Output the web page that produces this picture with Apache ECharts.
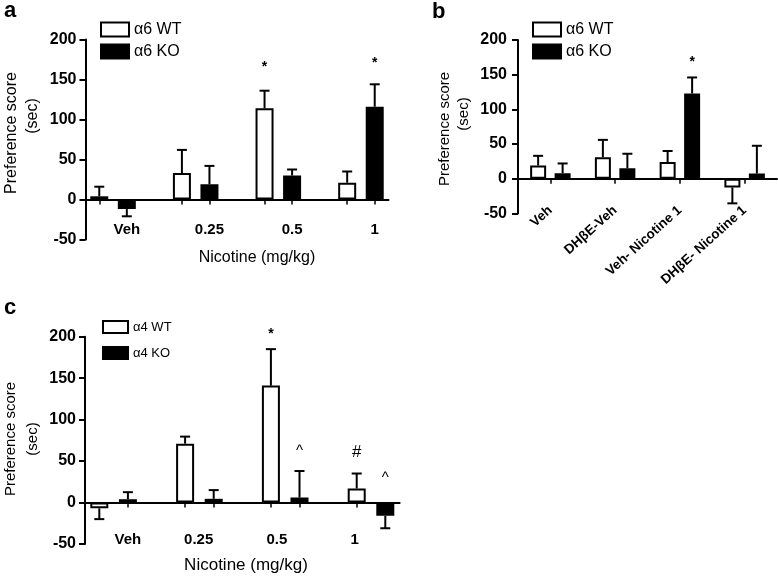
<!DOCTYPE html>
<html>
<head>
<meta charset="utf-8">
<script src="https://cdn.jsdelivr.net/npm/echarts@6/dist/echarts.min.js"></script>
<style>
html,body{margin:0;padding:0;background:#fff;}
#chart{width:778px;height:577px;}
</style>
</head>
<body>
<div id="chart"></div>
<script>
// ---------- DATA ----------
// Panel a : alpha6 WT / KO, nicotine dose
const aCategories = ['Veh', '0.25', '0.5', '1'];
const aWT    = [4, 33, 114, 21];
const aWTErr = [12, 29, 22, 14];
const aKO    = [-12, 19, 30, 116];
const aKOErr = [9, 23, 7.5, 28];
const aMarkText   = ['*', '*'];
const aMarkGroup  = [2, 3];
const aMarkSeries = ['WT', 'KO'];
const aMarkValue  = [166, 170];

// Panel b : alpha6 WT / KO, DHbE pretreatment
const bCategories = ['Veh', 'DHβE-Veh', 'Veh- Nicotine 1', 'DHβE- Nicotine 1'];
const bWT    = [19, 31, 24, -12.5];
const bWTErr = [14, 25, 16, 23];
const bKO    = [8, 15, 123, 7.5];
const bKOErr = [14, 21, 23, 40];
const bMarkText   = ['*'];
const bMarkGroup  = [2];
const bMarkSeries = ['KO'];
const bMarkValue  = [168];

// Panel c : alpha4 WT / KO, nicotine dose
const cCategories = ['Veh', '0.25', '0.5', '1'];
const cWT    = [-7, 71, 141, 17];
const cWTErr = [13, 8.5, 44, 18];
const cKO    = [4, 4.5, 6, -16];
const cKOErr = [8.5, 10.5, 32, 15];
const cMarkText   = ['*', '^', '#', '^'];
const cMarkGroup  = [2, 2, 3, 3];
const cMarkSeries = ['WT', 'KO', 'WT', 'KO'];
const cMarkValue  = [203, 62, 60, 30];

const yMin = -50, yMax = 200, yStep = 50;
const legendA = ['α6 WT', 'α6 KO'];
const legendC = ['α4 WT', 'α4 KO'];
const yTitle = ['Preference score', '(sec)'];
const xTitle = 'Nicotine (mg/kg)';

// ---------- LAYOUT / STYLE ----------
const FONT = '"Liberation Sans", Arial, Helvetica, sans-serif';
const BLACK = '#000';

// slotted layout for panels a and c: WT, KO, gap, WT, KO, gap ...
function slotData(cats) {
  const d = [];
  cats.forEach((c, i) => {
    d.push(c + ' WT', c + ' KO');
    if (i < cats.length - 1) d.push('gap' + i);
  });
  return d;
}
function slotValues(vals, offset) {
  const n = vals.length * 3 - 1;
  const arr = new Array(n).fill(null);
  vals.forEach((v, i) => { arr[i * 3 + offset] = v; });
  return arr;
}
function slotErr(vals, errs, offset) {
  return vals.map((v, i) => [i * 3 + offset, v, errs[i]]);
}
function slotMarks(texts, groups, ser, values) {
  return texts.map((t, i) => [groups[i] * 3 + (ser[i] === 'WT' ? 0 : 1), values[i], t]);
}
function isBarSlot(i) { return i % 3 !== 2; }

function errRender(cap) {
  return function (params, api) {
    const x = api.value(0), m = api.value(1), e = api.value(2);
    const end = m >= 0 ? m + e : m - e;
    const p0 = api.coord([x, m]);
    const p1 = api.coord([x, end]);
    const hw = cap / 2;
    const st = { stroke: BLACK, lineWidth: 2 };
    return {
      type: 'group',
      children: [
        { type: 'line', shape: { x1: p0[0], y1: p0[1], x2: p1[0], y2: p1[1] }, style: st },
        { type: 'line', shape: { x1: p1[0] - hw, y1: p1[1], x2: p1[0] + hw, y2: p1[1] }, style: st }
      ]
    };
  };
}
function markRender(sizes) {
  return function (params, api) {
    const p = api.coord([api.value(0), api.value(1)]);
    const t = api.value(2);
    const s = sizes[t] || sizes['*'];
    return {
      type: 'text', x: p[0], y: p[1],
      style: { text: t, fill: BLACK, align: 'center', verticalAlign: 'middle', font: s }
    };
  };
}

function yAxisCfg(gi, margin, fs) {
  return {
    gridIndex: gi, type: 'value', min: yMin, max: yMax, interval: yStep,
    axisLine: { show: true, lineStyle: { color: BLACK, width: 2 } },
    axisTick: { show: true, length: 6, lineStyle: { color: BLACK, width: 2 } },
    splitLine: { show: false },
    axisLabel: { color: BLACK, fontFamily: FONT, fontWeight: 'bold', fontSize: fs, margin: margin }
  };
}

const whiteStyle = { color: '#fff', borderColor: BLACK, borderWidth: 2 };
const blackStyle = { color: BLACK, borderColor: BLACK, borderWidth: 2 };

// label slots for panel a / c
const aLabelSlot = [1, 4, 7, 10];
const cLabelSlot = [1, 4, 6, 9];
const cLabelPad = [[0, 0, 0, 0], [0, 30, 0, 0], [0, 0, 0, 12], [0, 4, 0, 0]];

const cRich = {};
cLabelPad.forEach((p, i) => { cRich['s' + i] = { padding: p }; });

const option = {
  backgroundColor: '#fff',
  animation: false,
  textStyle: { fontFamily: FONT },
  grid: [
    { left: 85.5, top: 39.5, width: 303, height: 200, outerBoundsMode: 'none', containLabel: false },
    { left: 518, top: 40, width: 259, height: 173.4, outerBoundsMode: 'none', containLabel: false },
    { left: 85, top: 336.7, width: 314.6, height: 207.3, outerBoundsMode: 'none', containLabel: false }
  ],
  legend: [
    {
      orient: 'vertical', left: 100, top: 21.5, padding: 0, itemWidth: 28, itemHeight: 14, itemGap: 6,
      icon: 'rect', selectedMode: false,
      textStyle: { color: BLACK, fontSize: 16, fontFamily: FONT },
      data: [{ name: legendA[0], itemStyle: whiteStyle }, { name: legendA[1], itemStyle: blackStyle }]
    },
    {
      orient: 'vertical', left: 532, top: 21.5, padding: 0, itemWidth: 28, itemHeight: 14, itemGap: 6,
      icon: 'rect', selectedMode: false,
      textStyle: { color: BLACK, fontSize: 16, fontFamily: FONT },
      data: [{ name: legendA[0], itemStyle: whiteStyle }, { name: legendA[1], itemStyle: blackStyle }]
    },
    {
      orient: 'vertical', left: 102, top: 320, padding: 0, itemWidth: 25, itemHeight: 12, itemGap: 12,
      icon: 'rect', selectedMode: false,
      textStyle: { color: BLACK, fontSize: 13, fontFamily: FONT },
      data: [{ name: legendC[0], itemStyle: whiteStyle }, { name: legendC[1], itemStyle: blackStyle }]
    }
  ],
  xAxis: [
    {
      gridIndex: 0, type: 'category', data: slotData(aCategories),
      axisLine: { onZero: true, lineStyle: { color: BLACK, width: 2 } },
      axisTick: { show: true, alignWithLabel: true, length: 5, interval: (i) => isBarSlot(i), lineStyle: { color: BLACK, width: 1.5 } },
      axisLabel: {
        interval: (i) => aLabelSlot.indexOf(i) >= 0,
        formatter: (v, i) => { const k = aLabelSlot.indexOf(i); return k >= 0 ? aCategories[k] : ''; },
        color: BLACK, fontWeight: 'bold', fontSize: 15, margin: -17, fontFamily: FONT
      }
    },
    {
      gridIndex: 1, type: 'category', data: bCategories,
      axisLine: { onZero: true, lineStyle: { color: BLACK, width: 2 } },
      axisTick: { show: true, alignWithLabel: true, length: 5, lineStyle: { color: BLACK, width: 1.5 } },
      axisLabel: {
        interval: 0, rotate: 42, color: BLACK, fontWeight: 'bold', fontSize: 13.5, margin: -5, fontFamily: FONT
      }
    },
    {
      gridIndex: 2, type: 'category', data: slotData(cCategories),
      axisLine: { onZero: true, lineStyle: { color: BLACK, width: 2 } },
      axisTick: { show: true, alignWithLabel: true, length: 5, interval: (i) => isBarSlot(i), lineStyle: { color: BLACK, width: 1.5 } },
      axisLabel: {
        interval: (i) => cLabelSlot.indexOf(i) >= 0,
        formatter: (v, i) => { const k = cLabelSlot.indexOf(i); return k >= 0 ? '{s' + k + '|' + cCategories[k] + '}' : ''; },
        rich: cRich,
        color: BLACK, fontWeight: 'bold', fontSize: 15, margin: -11.5, fontFamily: FONT
      }
    }
  ],
  yAxis: [yAxisCfg(0, 9, 16), yAxisCfg(1, 11, 16), yAxisCfg(2, 9, 16)],
  series: [
    // panel a
    { name: legendA[0], type: 'bar', xAxisIndex: 0, yAxisIndex: 0, data: slotValues(aWT, 0), barWidth: 18, barGap: '-100%', itemStyle: whiteStyle },
    { name: legendA[1], type: 'bar', xAxisIndex: 0, yAxisIndex: 0, data: slotValues(aKO, 1), barWidth: 18, barGap: '-100%', itemStyle: blackStyle },
    { type: 'custom', xAxisIndex: 0, yAxisIndex: 0, renderItem: errRender(10), data: slotErr(aWT, aWTErr, 0).concat(slotErr(aKO, aKOErr, 1)), z: 3 },
    { type: 'custom', xAxisIndex: 0, yAxisIndex: 0, renderItem: markRender({ '*': 'bold 14px ' + FONT }), data: slotMarks(aMarkText, aMarkGroup, aMarkSeries, aMarkValue), z: 4 },
    // panel b
    { name: legendA[0], type: 'bar', xAxisIndex: 1, yAxisIndex: 1, data: bWT, barWidth: 16, barGap: '53%', itemStyle: whiteStyle },
    { name: legendA[1], type: 'bar', xAxisIndex: 1, yAxisIndex: 1, data: bKO, barWidth: 16, barGap: '53%', itemStyle: blackStyle },
    {
      type: 'custom', xAxisIndex: 1, yAxisIndex: 1, z: 3,
      renderItem: function (params, api) {
        const g = api.value(0), which = api.value(3);
        const off = (which === 0 ? -1 : 1) * 12.25;
        const m = api.value(1), e = api.value(2);
        const end = m >= 0 ? m + e : m - e;
        const p0 = api.coord([g, m]); const p1 = api.coord([g, end]);
        const x = p0[0] + off, hw = 5;
        const st = { stroke: BLACK, lineWidth: 2 };
        return { type: 'group', children: [
          { type: 'line', shape: { x1: x, y1: p0[1], x2: x, y2: p1[1] }, style: st },
          { type: 'line', shape: { x1: x - hw, y1: p1[1], x2: x + hw, y2: p1[1] }, style: st }
        ] };
      },
      data: bWT.map((v, i) => [i, v, bWTErr[i], 0]).concat(bKO.map((v, i) => [i, v, bKOErr[i], 1]))
    },
    {
      type: 'custom', xAxisIndex: 1, yAxisIndex: 1, z: 4,
      renderItem: function (params, api) {
        const p = api.coord([api.value(0), api.value(1)]);
        const off = (api.value(3) === 0 ? -1 : 1) * 12.25;
        return { type: 'text', x: p[0] + off, y: p[1], style: { text: bMarkText[params.dataIndex], fill: BLACK, align: 'center', verticalAlign: 'middle', font: 'bold 14px ' + FONT } };
      },
      data: bMarkText.map((t, i) => [bMarkGroup[i], bMarkValue[i], 0, bMarkSeries[i] === 'WT' ? 0 : 1])
    },
    // panel c
    { name: legendC[0], type: 'bar', xAxisIndex: 2, yAxisIndex: 2, data: slotValues(cWT, 0), barWidth: 18, barGap: '-100%', itemStyle: whiteStyle },
    { name: legendC[1], type: 'bar', xAxisIndex: 2, yAxisIndex: 2, data: slotValues(cKO, 1), barWidth: 18, barGap: '-100%', itemStyle: blackStyle },
    { type: 'custom', xAxisIndex: 2, yAxisIndex: 2, renderItem: errRender(10), data: slotErr(cWT, cWTErr, 0).concat(slotErr(cKO, cKOErr, 1)), z: 3 },
    { type: 'custom', xAxisIndex: 2, yAxisIndex: 2, renderItem: markRender({ '*': 'bold 14px ' + FONT, '^': '15px ' + FONT, '#': '17px ' + FONT }), data: slotMarks(cMarkText, cMarkGroup, cMarkSeries, cMarkValue), z: 4 }
  ],
  graphic: [
    { type: 'text', left: 4, top: 0, style: { text: 'a', font: 'bold 22px ' + FONT, fill: BLACK } },
    { type: 'text', left: 432, top: 1, style: { text: 'b', font: 'bold 22px ' + FONT, fill: BLACK } },
    { type: 'text', left: 4, top: 297, style: { text: 'c', font: 'bold 22px ' + FONT, fill: BLACK } },
    // y titles
    { type: 'text', x: 12, y: 133, rotation: Math.PI / 2, style: { text: yTitle[0], font: '16px ' + FONT, fill: BLACK, align: 'center', verticalAlign: 'middle' } },
    { type: 'text', x: 32.5, y: 116, rotation: Math.PI / 2, style: { text: yTitle[1], font: '16px ' + FONT, fill: BLACK, align: 'center', verticalAlign: 'middle' } },
    { type: 'text', x: 445, y: 129, rotation: Math.PI / 2, style: { text: yTitle[0], font: '15px ' + FONT, fill: BLACK, align: 'center', verticalAlign: 'middle' } },
    { type: 'text', x: 463.5, y: 114, rotation: Math.PI / 2, style: { text: yTitle[1], font: '15px ' + FONT, fill: BLACK, align: 'center', verticalAlign: 'middle' } },
    { type: 'text', x: 11, y: 439, rotation: Math.PI / 2, style: { text: yTitle[0], font: '15px ' + FONT, fill: BLACK, align: 'center', verticalAlign: 'middle' } },
    { type: 'text', x: 33, y: 439, rotation: Math.PI / 2, style: { text: yTitle[1], font: '15px ' + FONT, fill: BLACK, align: 'center', verticalAlign: 'middle' } },
    // x titles
    { type: 'text', x: 257, y: 258, style: { text: xTitle, font: '16px ' + FONT, fill: BLACK, align: 'center', verticalAlign: 'middle' } },
    { type: 'text', x: 246, y: 565, style: { text: xTitle, font: '17px ' + FONT, fill: BLACK, align: 'center', verticalAlign: 'middle' } }
  ]
};

const chart = echarts.init(document.getElementById('chart'), null, { renderer: 'canvas' });
chart.setOption(option);
</script>
</body>
</html>
